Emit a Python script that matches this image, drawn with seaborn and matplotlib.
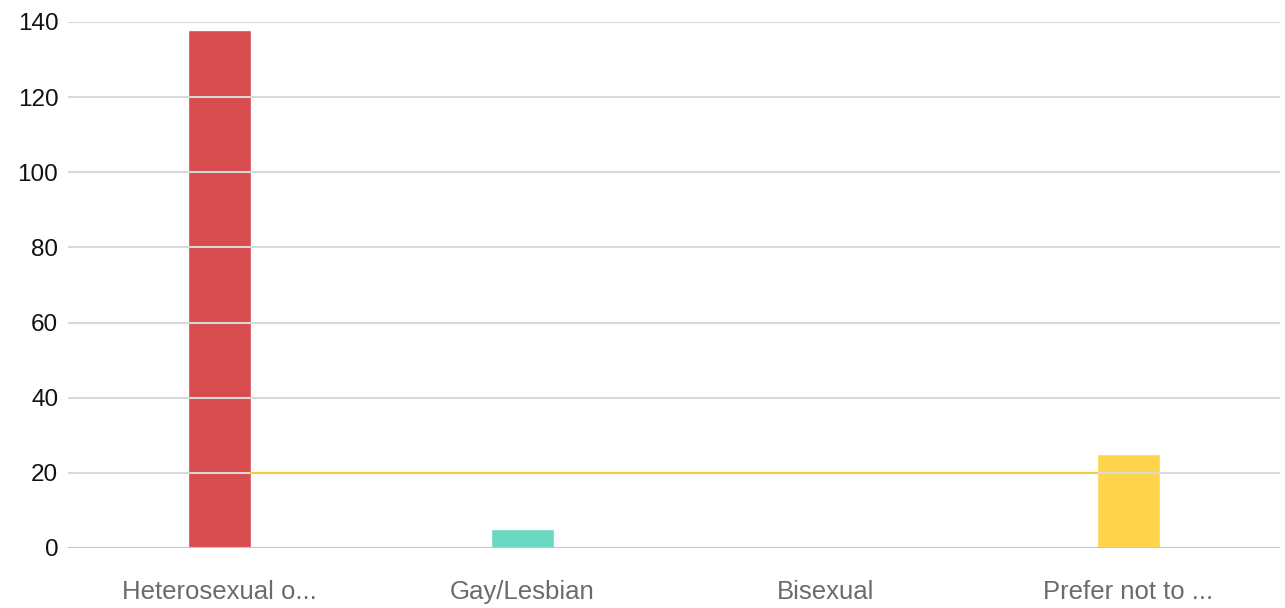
import matplotlib
matplotlib.use('Agg')
import matplotlib.pyplot as plt
import seaborn as sns
import pandas as pd

categories = ['Heterosexual o...', 'Gay/Lesbian', 'Bisexual', 'Prefer not to ...']
counts = [138, 5, 0, 25]
bar_colors = ['#D84B4F', '#6AD8C0', '#6AD8C0', '#FFD44A']
y_ticks = [0, 20, 40, 60, 80, 100, 120, 140]

df = pd.DataFrame({'category': categories, 'count': counts})

sns.set_theme(style='white')
plt.rcParams['font.family'] = ['Liberation Sans', 'DejaVu Sans']

fig = plt.figure(figsize=(12.85, 6.08), dpi=100)
ax = fig.add_axes([68 / 1285, 60 / 608, 1212 / 1285, 526 / 608])

sns.barplot(data=df, x='category', y='count', hue='category', palette=bar_colors,
            legend=False, width=0.205, saturation=1, ax=ax)

ax.set_xlim(-0.5, len(categories) - 0.5)
ax.set_ylim(0, 140)
ax.set_yticks(y_ticks)
ax.set_xlabel('')
ax.set_ylabel('')

# gridlines drawn above the bars, like the original
ax.set_axisbelow(False)
ax.yaxis.grid(True, color='#D9D9D9', linewidth=1.5)
ax.xaxis.grid(False)

# the 20 line between first and last bar shows in yellow
first, last = ax.patches[0], ax.patches[-1]
ax.plot([first.get_x() + first.get_width(), last.get_x()], [20, 20],
        color='#F8CB3C', linewidth=1.5, zorder=3)
ax.axhline(0, color='#BDBDBD', linewidth=1.8, zorder=4)

for s in ax.spines.values():
    s.set_visible(False)

ax.tick_params(axis='y', length=0, pad=7, labelsize=17.5, labelcolor='#111111')
ax.tick_params(axis='x', length=0, pad=23, labelsize=18.5, labelcolor='#6B6B6B')

fig.savefig('out.png', dpi=100)
